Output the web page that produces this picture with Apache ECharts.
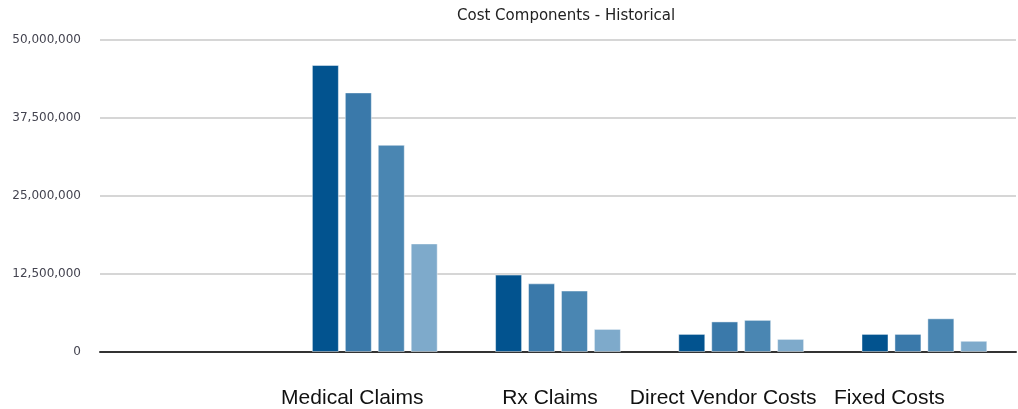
<!DOCTYPE html>
<html>
<head>
<meta charset="utf-8">
<script src="https://cdn.jsdelivr.net/npm/echarts@6/dist/echarts.min.js"></script>
<style>html,body{margin:0;padding:0;background:#fff}#c{width:1018px;height:409px}</style>
</head>
<body>
<div id="c"></div>
<script>
const categories = ['', 'Medical Claims', 'Rx Claims', 'Direct Vendor Costs', 'Fixed Costs'];
const labelShift = [0, 45, 16, 36, 70];
const seriesNames = ['Period 1', 'Period 2', 'Period 3', 'Period 4'];
const period1 = [null, 46000000, 12400000, 2900000, 2900000];
const period2 = [null, 41600000, 11000000, 4900000, 2900000];
const period3 = [null, 33200000, 9850000, 5150000, 5400000];
const period4 = [null, 17400000, 3700000, 2100000, 1800000];
const yTicks = [0, 12500000, 25000000, 37500000, 50000000];
const colors = ['#02538f', '#3a79aa', '#4a86b2', '#7eaacb'];

const seriesData = [period1, period2, period3, period4];
const chart = echarts.init(document.getElementById('c'));
chart.setOption({
  animation: false,
  title: {
    text: 'Cost Components - Historical',
    left: 452, top: 4,
    textStyle: { fontFamily: 'DejaVu Sans', fontSize: 15, fontWeight: 'normal', color: '#222' }
  },
  grid: { left: 100, right: 2, top: 40, bottom: 56, containLabel: false },
  xAxis: {
    type: 'category',
    data: categories.map((c, i) => ({ value: c, textStyle: { padding: [0, labelShift[i], 0, 0] } })),
    axisLine: { lineStyle: { color: '#333', width: 2 } },
    axisTick: { show: false },
    axisLabel: { interval: 0, margin: 36, fontFamily: 'Liberation Sans', fontSize: 21, color: '#111' },
    splitLine: { show: false }
  },
  yAxis: {
    type: 'value',
    min: yTicks[0], max: yTicks[yTicks.length - 1], interval: yTicks[1] - yTicks[0],
    axisLine: { show: false },
    axisTick: { show: false },
    axisLabel: {
      margin: 19, fontFamily: 'DejaVu Sans', fontSize: 12, color: '#444450',
      formatter: v => v.toLocaleString('en-US')
    },
    splitLine: { lineStyle: { color: '#c8c8c8', width: 1.5 } }
  },
  series: seriesData.map((d, i) => ({
    name: seriesNames[i],
    type: 'bar',
    data: d,
    barWidth: 27,
    barGap: '22%',
    itemStyle: { color: colors[i], borderColor: 'rgba(255,255,255,0.45)', borderWidth: 1 }
  }))
});
</script>
</body>
</html>
